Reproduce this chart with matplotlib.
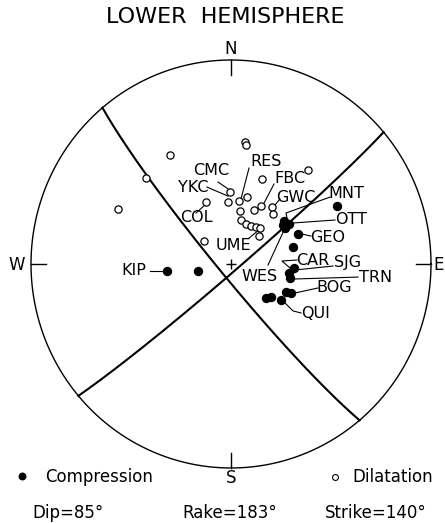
import numpy as np
import matplotlib
matplotlib.use("Agg")
import matplotlib.pyplot as plt

# fault plane solution (plane 1)
strike = 140.0
dip = 85.0
rake = 183.0

# first-motion readings: station azimuth and ray takeoff angle, degrees
comp_az = [263.9, 258.3, 61.8, 51.5, 55.9, 56.8, 53.7, 66.0, 75.0, 93.6,
           98.6, 103.1, 116.5, 115.4, 125.2, 133.6, 129.0]
comp_toa = [26.3, 13.7, 50.3, 27.7, 28.7, 26.4, 26.4, 29.9, 26.2, 25.8,
            24.0, 24.8, 25.1, 27.2, 25.0, 19.7, 21.0]

dil_az = [330.3, 314.8, 295.5, 337.6, 309.9, 6.7, 7.3, 39.9, 20.4, 359.2,
          357.2, 7.4, 13.7, 23.5, 27.8, 36.3, 40.6, 9.8, 13.1, 20.9,
          28.2, 34.6, 39.4, 45.6]
dil_toa = [51.6, 50.1, 52.6, 26.9, 14.3, 50.4, 49.1, 50.2, 36.7, 29.0,
           24.8, 25.5, 27.7, 23.6, 26.3, 28.4, 26.4, 21.5, 18.1, 17.1,
           17.2, 18.0, 18.6, 16.0]


def project(az, toa):
    # lower hemisphere, equal-area (Schmidt) net
    az = np.radians(np.asarray(az))
    r = np.sqrt(2) * np.sin(np.radians(np.asarray(toa)) / 2)
    return r * np.sin(az), r * np.cos(az)


def aux_plane(s, d, r):
    s, d, r = np.radians([s, d, r])
    slip = np.array([np.cos(r) * np.cos(s) + np.sin(r) * np.cos(d) * np.sin(s),
                     np.cos(r) * np.sin(s) - np.sin(r) * np.cos(d) * np.cos(s),
                     -np.sin(r) * np.sin(d)])
    if slip[2] > 0:
        slip = -slip
    d2 = np.degrees(np.arccos(-slip[2]))
    s2 = np.degrees(np.arctan2(-slip[0], slip[1])) % 360
    return s2, d2


def great_circle(s, d):
    s, d = np.radians([s, d])
    t = np.linspace(0, np.pi, 181)
    along = np.array([np.cos(s), np.sin(s), 0.0])
    down = np.array([np.cos(d) * np.cos(s + np.pi / 2),
                     np.cos(d) * np.sin(s + np.pi / 2), np.sin(d)])
    v = np.outer(np.cos(t), along) + np.outer(np.sin(t), down)
    plunge = np.degrees(np.arcsin(np.clip(v[:, 2], -1, 1)))
    az = np.degrees(np.arctan2(v[:, 1], v[:, 0]))
    return project(az, 90 - plunge)


plt.rcParams['font.family'] = ['DejaVu Sans']
fig = plt.figure(figsize=(4.45, 5.23), dpi=100)
ax = fig.add_axes([0, 0, 1, 1])
ax.set_xlim(-1.155, 1.07)
ax.set_ylim(-1.2696, 1.2941)
ax.axis('off')

th = np.linspace(0, 2 * np.pi, 400)
ax.plot(np.cos(th), np.sin(th), color='black', lw=1.0)

# N / E / S / W ticks
tk = 0.075
ax.plot([0, 0], [1, 1 - tk], color='black', lw=1.0)
ax.plot([0, 0], [-1, -1 + tk], color='black', lw=1.0)
ax.plot([-1, -1 + tk], [0, 0], color='black', lw=1.0)
ax.plot([1, 1 - tk], [0, 0], color='black', lw=1.0)
ax.text(0, 1.054, 'N', ha='center', va='center', fontsize=12)
ax.text(0, -1.049, 'S', ha='center', va='center', fontsize=12)
ax.text(-1.07, -0.005, 'W', ha='center', va='center', fontsize=12)
ax.text(1.01, -0.005, 'E', ha='left', va='center', fontsize=12)
ax.text(-0.03, 1.211, 'LOWER  HEMISPHERE', ha='center', va='center', fontsize=16)

# nodal planes
for s, d in [(strike, dip), aux_plane(strike, dip, rake)]:
    gx, gy = great_circle(s, d)
    ax.plot(gx, gy, color='black', lw=1.5, zorder=2)

ax.plot(0, 0, marker='+', color='black', ms=7, mew=1.0)

cx, cy = project(comp_az, comp_toa)
ax.scatter(cx, cy, s=33, color='black', zorder=4)
dx, dy = project(dil_az, dil_toa)
ax.scatter(dx, dy, s=27, facecolor='white', edgecolor='black', lw=0.9, zorder=4)

# station names with leader lines
labels = [
    ('KIP', (-0.485, -0.034), [(-0.405, -0.034), (-0.335, -0.034)]),
    ('CMC', (-0.10, 0.456), [(-0.065, 0.402), (0.0, 0.358)]),
    ('YKC', (-0.19, 0.377), [(-0.12, 0.377), (-0.015, 0.333)]),
    ('RES', (0.175, 0.50), [(0.09, 0.470), (0.05, 0.319)]),
    ('FBC', (0.293, 0.417), [(0.215, 0.392), (0.16, 0.289)]),
    ('GWC', (0.325, 0.328), [(0.245, 0.319), (0.22, 0.289)]),
    ('COL', (-0.175, 0.2255), [(-0.175, 0.25), (-0.125, 0.294)]),
    ('UME', (0.01, 0.093), [(0.09, 0.127), (0.14, 0.167)]),
    ('MNT', (0.575, 0.348), [(0.495, 0.328), (0.275, 0.25), (0.28, 0.225)]),
    ('OTT', (0.60, 0.2157), [(0.52, 0.2157), (0.31, 0.201)]),
    ('GEO', (0.485, 0.132), [(0.40, 0.137), (0.355, 0.147)]),
    ('CAR', (0.41, 0.0196), [(0.33, 0.0196), (0.255, 0.0147), (0.295, -0.0196)]),
    ('SJG', (0.585, 0.005), [(0.51, -0.0098), (0.325, -0.029)]),
    ('TRN', (0.725, -0.064), [(0.635, -0.064), (0.32, -0.0735)]),
    ('BOG', (0.515, -0.113), [(0.435, -0.1176), (0.32, -0.142)]),
    ('QUI', (0.425, -0.245), [(0.35, -0.24), (0.31, -0.23), (0.265, -0.186)]),
    ('WES', (0.145, -0.059), [(0.185, -0.005), (0.27, 0.176)]),
]
for name, (tx, ty), path in labels:
    ax.text(tx, ty, name, ha='center', va='center', fontsize=11.5, zorder=5)
    px, py = zip(*path)
    ax.plot(px, py, color='black', lw=0.8, zorder=3)

# key and solution parameters
ax.scatter([-1.045], [-1.039], s=22, color='black')
ax.text(-0.93, -1.044, 'Compression', ha='left', va='center', fontsize=12)
ax.scatter([0.52], [-1.044], s=18, facecolor='white', edgecolor='black', lw=0.8)
ax.text(0.605, -1.044, 'Dilatation', ha='left', va='center', fontsize=12)
ax.text(-0.995, -1.22, 'Dip=%d°' % dip, ha='left', va='center', fontsize=12)
ax.text(-0.245, -1.22, 'Rake=%d°' % rake, ha='left', va='center', fontsize=12)
ax.text(0.47, -1.22, 'Strike=%d°' % strike, ha='left', va='center', fontsize=12)

fig.savefig('out.png', dpi=100)
